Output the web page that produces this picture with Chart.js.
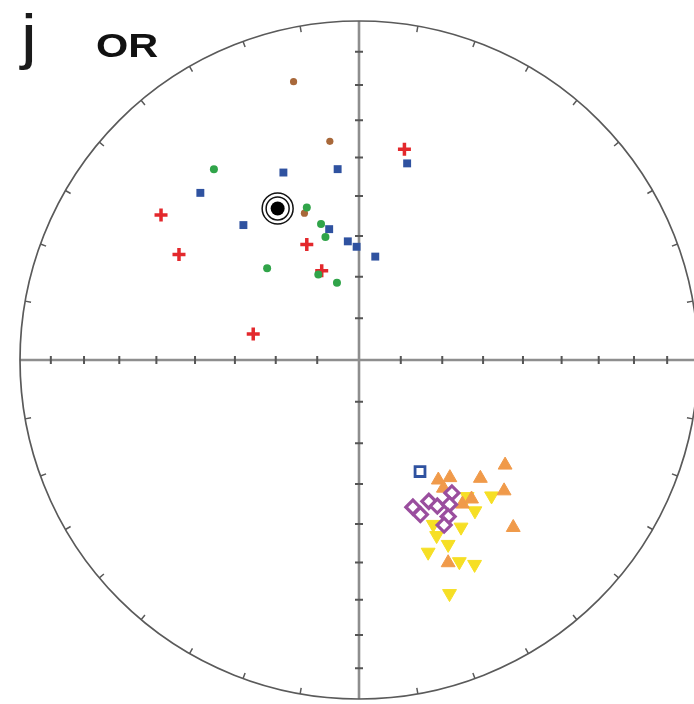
<!DOCTYPE html>
<html><head><meta charset="utf-8">
<style>
html,body{margin:0;padding:0;background:#fff;overflow:hidden;width:694px;height:704px;}
#wrap{position:relative;width:694px;height:704px;overflow:hidden;}
canvas{position:absolute;left:0;top:0;}
.lab{position:absolute;font-family:'Liberation Sans',Arial,sans-serif;color:#1a1a1a;line-height:1;white-space:nowrap;transform-origin:0 0;}
#panel{left:21px;top:5px;font-size:62px;transform:scaleX(1.15);}
#site{left:96px;top:28px;font-size:34px;font-weight:bold;transform:scaleX(1.22);color:#111;}
</style>
<script src="https://cdn.jsdelivr.net/npm/chart.js@4.4.0/dist/chart.umd.min.js"></script>
</head><body>
<div id="wrap"><canvas id="c" width="704" height="704"></canvas>
<div class="lab" id="panel">j</div><div class="lab" id="site">OR</div></div>
<script>
// Net tick positions (degrees)
const axisTickAngles = [10,20,30,40,50,60,70,80];
const rimTickAzimuths = [10,20,30,40,50,60,70,80,100,110,120,130,140,150,160,170,190,200,210,220,230,240,250,260,280,290,300,310,320,330,340,350];

// Upper-hemisphere cluster (normalized net coordinates, x right, y up)
const brownDots = [[-0.193,0.821],[-0.086,0.645],[-0.161,0.433]];
const greenDots = [[-0.428,0.563],[-0.154,0.450],[-0.112,0.401],[-0.099,0.363],[-0.271,0.271],[-0.120,0.252],[-0.065,0.228]];
const blueSquares = [[-0.223,0.553],[-0.063,0.563],[-0.468,0.493],[-0.341,0.398],[-0.088,0.386],[-0.033,0.350],[-0.007,0.334],[0.048,0.305],[0.142,0.580]];
const redCrosses = [[0.134,0.622],[-0.584,0.428],[-0.531,0.311],[-0.154,0.341],[-0.110,0.263],[-0.312,0.077]];
const meanPole = [[-0.240,0.447]];

// Lower-right cluster
const blueOpenSquare = [[0.180,-0.329]];
const orangeUp = [[0.431,-0.310],[0.234,-0.354],[0.268,-0.347],[0.358,-0.349],[0.249,-0.378],[0.428,-0.386],[0.305,-0.425],[0.332,-0.410],[0.455,-0.494],[0.263,-0.598]];
const yellowDown = [[0.319,-0.403],[0.391,-0.401],[0.342,-0.445],[0.219,-0.485],[0.301,-0.493],[0.229,-0.518],[0.263,-0.544],[0.204,-0.567],[0.296,-0.595],[0.341,-0.603],[0.267,-0.689]];
const purpleDiamonds = [[0.274,-0.392],[0.159,-0.434],[0.181,-0.456],[0.206,-0.417],[0.231,-0.431],[0.267,-0.426],[0.263,-0.462],[0.251,-0.487]];

const pts = a => a.map(p => ({x:p[0], y:p[1]}));

const netPlugin = {
  id:'net',
  beforeDatasetsDraw(chart){
    const {ctx, scales:{x,y}} = chart;
    const cx = x.getPixelForValue(0), cy = y.getPixelForValue(0);
    const R = x.getPixelForValue(1) - cx;
    ctx.save();
    ctx.lineCap = 'butt';
    ctx.strokeStyle = '#8e8e8e'; ctx.lineWidth = 2.6;
    ctx.beginPath();
    ctx.moveTo(x.getPixelForValue(-1), cy); ctx.lineTo(x.getPixelForValue(1), cy);
    ctx.moveTo(cx, y.getPixelForValue(1)); ctx.lineTo(cx, y.getPixelForValue(-1));
    ctx.stroke();
    ctx.strokeStyle = '#555'; ctx.lineWidth = 2;
    ctx.beginPath();
    for (const a of axisTickAngles) {
      const r = Math.SQRT2 * Math.sin(a * Math.PI / 360);
      for (const s of [-1, 1]) {
        const px = x.getPixelForValue(s * r);
        ctx.moveTo(px, cy - 4); ctx.lineTo(px, cy + 4);
        const py = y.getPixelForValue(s * r);
        ctx.moveTo(cx - 4, py); ctx.lineTo(cx + 4, py);
      }
    }
    ctx.stroke();
    ctx.strokeStyle = '#5a5a5a'; ctx.lineWidth = 1.7;
    ctx.beginPath(); ctx.arc(cx, cy, R, 0, 2 * Math.PI); ctx.stroke();
    ctx.lineWidth = 1.5;
    ctx.beginPath();
    for (const az of rimTickAzimuths) {
      const t = az * Math.PI / 180, sx = Math.sin(t), sy = -Math.cos(t);
      ctx.moveTo(cx + sx * R, cy + sy * R); ctx.lineTo(cx + sx * (R - 6), cy + sy * (R - 6));
    }
    ctx.stroke();
    ctx.restore();
  }
};

new Chart(document.getElementById('c'), {
  type: 'scatter',
  data: { datasets: [
    {data: pts(meanPole), pointStyle:'circle', pointRadius:15.5, pointBackgroundColor:'rgba(0,0,0,0)', pointBorderColor:'#111', pointBorderWidth:1.5},
    {data: pts(meanPole), pointStyle:'circle', pointRadius:11.5, pointBackgroundColor:'rgba(0,0,0,0)', pointBorderColor:'#111', pointBorderWidth:1.5},
    {data: pts(meanPole), pointStyle:'circle', pointRadius:7, pointBackgroundColor:'#000', pointBorderWidth:0},
    {data: pts(greenDots), pointStyle:'circle', pointRadius:4, pointBackgroundColor:'#30a449', pointBorderWidth:0},
    {data: pts(redCrosses), pointStyle:'cross', pointRadius:6.5, pointBorderColor:'#e3282c', pointBorderWidth:3.5},
    {data: pts(blueSquares), pointStyle:'rect', pointRadius:5.6, pointBackgroundColor:'#2f52a0', pointBorderWidth:0},
    {data: pts(brownDots), pointStyle:'circle', pointRadius:3.6, pointBackgroundColor:'#a8683a', pointBorderWidth:0},
    {data: pts(blueOpenSquare), pointStyle:'rect', pointRadius:7, pointBackgroundColor:'#fff', pointBorderColor:'#2f52a0', pointBorderWidth:2.8},
    {data: pts(purpleDiamonds), pointStyle:'rectRot', pointRadius:7, pointBackgroundColor:'#fff', pointBorderColor:'#9a4e9e', pointBorderWidth:3.2},
    {data: pts(orangeUp), pointStyle:'triangle', pointRadius:8, pointBackgroundColor:'#f09a4a', pointBorderColor:'#f09a4a', pointBorderWidth:1},
    {data: pts(yellowDown), pointStyle:'triangle', pointRotation:180, pointRadius:8, pointBackgroundColor:'#f6df25', pointBorderColor:'#f6df25', pointBorderWidth:1}
  ]},
  options: {
    responsive:false, animation:false, events:[],
    layout:{padding:{left:20, right:6, top:21, bottom:5}, autoPadding:false},
    plugins:{legend:{display:false}, tooltip:{enabled:false}},
    scales:{
      x:{type:'linear', min:-1, max:1, display:false},
      y:{type:'linear', min:-1, max:1, display:false}
    }
  },
  plugins:[netPlugin]
});
</script>
</body></html>
